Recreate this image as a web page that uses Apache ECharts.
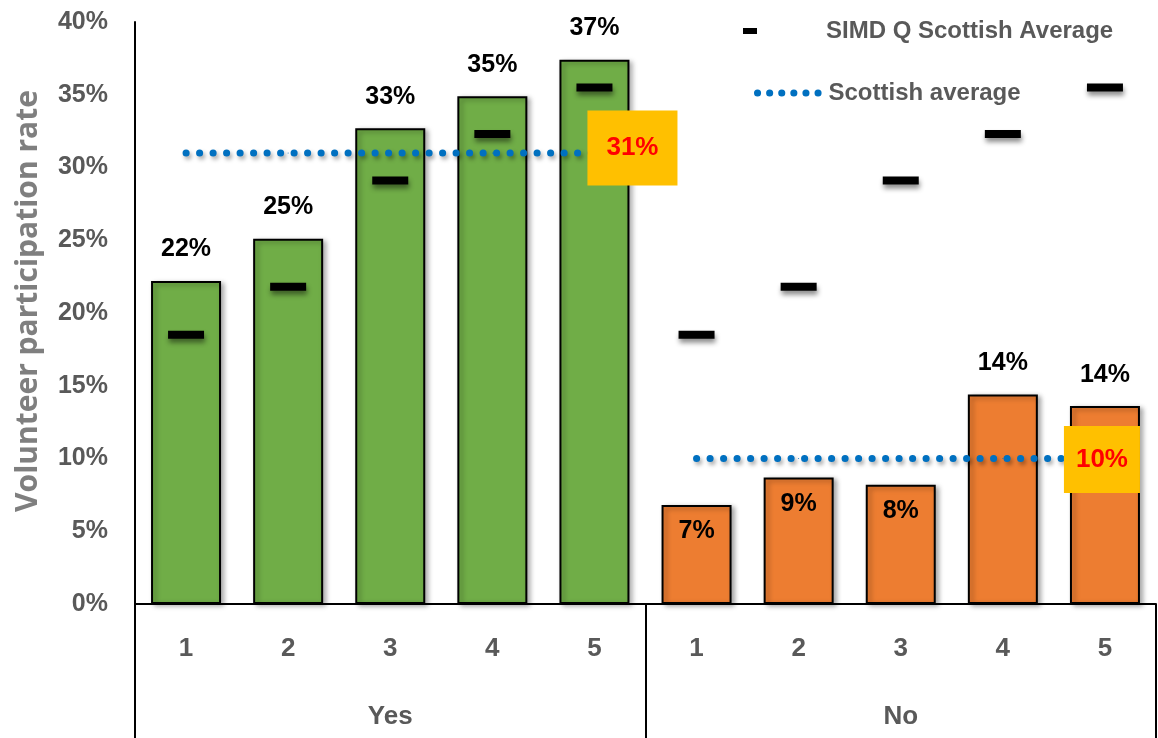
<!DOCTYPE html>
<html>
<head>
<meta charset="utf-8">
<style>
  html, body { margin: 0; padding: 0; background: #ffffff; }
  #chart { width: 1158px; height: 738px; }
</style>
<script src="https://cdn.jsdelivr.net/npm/echarts@6/dist/echarts.min.js"></script>
</head>
<body>
<div id="chart"></div>
<script>
// Volunteer participation rate by SIMD quintile, split by Yes / No groups
const quintiles = ['1', '2', '3', '4', '5'];
const groups = ['Yes', 'No'];
const yesRates = [22.2, 25.1, 32.7, 34.9, 37.4];
const noRates = [6.8, 8.7, 8.2, 14.4, 13.6];
const simdQAverage = [18.5, 21.8, 29.1, 32.3, 35.5];
const scottishAverageYes = 31;
const scottishAverageNo = 10;
const yTicks = [0, 5, 10, 15, 20, 25, 30, 35, 40];

const GREEN = '#70AD47';
const ORANGE = '#ED7D31';
const BLUE = '#0070C0';
const GREY = '#595959';
const FONT = "'Liberation Sans', Arial, sans-serif";
const LABEL_SIZE = 25;

const categories = quintiles.concat(quintiles);
const allRates = yesRates.concat(noRates);

// No-group bars 1-3 carry their label inside the top of the bar
const barData = allRates.map((v, i) => {
  const isYes = i < quintiles.length;
  const item = {
    value: v,
    itemStyle: { color: isYes ? GREEN : ORANGE }
  };
  if (!isYes && v < 10) {
    item.label = { position: 'insideTop', distance: 14 };
  }
  return item;
});

const simdData = simdQAverage.concat(simdQAverage);

function avgSeriesData(value, from, to) {
  return categories.map((c, i) => (i >= from && i <= to ? value : null));
}

const yesAvg = avgSeriesData(scottishAverageYes, 0, 4);
const noAvg = avgSeriesData(scottishAverageNo, 5, 9);

const avgLabelBase = {
  show: true,
  position: 'inside',
  formatter: p => p.value + '%',
  color: '#FF0000',
  fontFamily: FONT,
  fontWeight: 'bold',
  fontSize: 26,
  backgroundColor: '#FFC000'
};
yesAvg[4] = {
  value: scottishAverageYes,
  label: Object.assign({}, avgLabelBase, { offset: [38, -5], padding: [25, 19, 24, 19] })
};
noAvg[9] = {
  value: scottishAverageNo,
  label: Object.assign({}, avgLabelBase, { offset: [-3, 1], padding: [21, 12, 20, 12] })
};

const dotted = {
  color: BLUE,
  width: 7,
  type: [0.1, 13.4],
  cap: 'round',
  shadowColor: 'rgba(0,0,0,0.35)',
  shadowBlur: 4,
  shadowOffsetX: 2,
  shadowOffsetY: 3
};

const chart = echarts.init(document.getElementById('chart'), null, { renderer: 'canvas' });

chart.setOption({
  animation: false,
  backgroundColor: '#ffffff',
  grid: { left: 135, right: 2, top: 22, bottom: 134, containLabel: false },
  legend: [
    {
      data: ['SIMD Q Scottish Average'],
      left: 738,
      top: 14,
      icon: 'rect',
      itemWidth: 14,
      itemHeight: 6,
      textStyle: {
        color: GREY, fontFamily: FONT, fontWeight: 'bold', fontSize: 24,
        padding: [0, 0, 0, 64]
      }
    },
    {
      data: ['Scottish average'],
      left: 749,
      top: 76,
      itemWidth: 66,
      itemHeight: 8,
      itemStyle: { opacity: 0 },
      lineStyle: { color: BLUE, width: 7, type: [0.1, 12], cap: 'round' },
      textStyle: { color: GREY, fontFamily: FONT, fontWeight: 'bold', fontSize: 24 }
    }
  ],
  xAxis: [
    {
      type: 'category',
      data: categories,
      position: 'bottom',
      axisLine: { show: true, lineStyle: { color: '#000', width: 2 } },
      axisTick: { show: false },
      axisLabel: {
        color: GREY, fontFamily: FONT, fontWeight: 'bold', fontSize: 26, margin: 32
      }
    },
    {
      type: 'category',
      data: groups,
      position: 'bottom',
      axisLine: { show: false },
      axisTick: { show: true, length: 134, lineStyle: { color: '#000', width: 2 } },
      axisLabel: {
        color: GREY, fontFamily: FONT, fontWeight: 'bold', fontSize: 26, margin: 100
      }
    }
  ],
  yAxis: {
    type: 'value',
    min: yTicks[0],
    max: yTicks[yTicks.length - 1],
    interval: 5,
    name: 'Volunteer participation rate',
    nameLocation: 'middle',
    nameGap: 92,
    nameTextStyle: {
      color: '#7F7F7F', fontFamily: "'Open Sans', sans-serif", fontWeight: 'bold', fontSize: 30,
      padding: [0, 0, 0, 24]
    },
    axisLine: { show: true, lineStyle: { color: '#000', width: 2 } },
    axisTick: { show: false },
    splitLine: { show: false },
    axisLabel: {
      formatter: '{value}%',
      color: GREY, fontFamily: FONT, fontWeight: 'bold', fontSize: 25, margin: 27
    }
  },
  series: [
    {
      name: 'Volunteer participation rate',
      type: 'bar',
      xAxisIndex: 0,
      data: barData,
      barWidth: 70,
      itemStyle: {
        borderColor: '#000',
        borderWidth: 2,
        shadowColor: 'rgba(0,0,0,0.35)',
        shadowBlur: 5,
        shadowOffsetX: 3,
        shadowOffsetY: 2
      },
      label: {
        show: true,
        position: 'top',
        distance: 19,
        formatter: p => Math.round(p.value) + '%',
        color: '#000',
        fontFamily: FONT,
        fontWeight: 'bold',
        fontSize: LABEL_SIZE
      },
      z: 2
    },
    {
      name: 'SIMD Q Scottish Average',
      type: 'scatter',
      xAxisIndex: 0,
      data: simdData,
      symbol: 'rect',
      symbolSize: [36, 8],
      itemStyle: {
        color: '#000',
        opacity: 1,
        shadowColor: 'rgba(0,0,0,0.45)',
        shadowBlur: 5,
        shadowOffsetX: 1,
        shadowOffsetY: 4
      },
      z: 4
    },
    {
      name: 'Scottish average',
      type: 'line',
      xAxisIndex: 0,
      data: yesAvg,
      symbol: 'circle',
      symbolSize: 1,
      itemStyle: { color: BLUE },
      lineStyle: dotted,
      label: { show: false },
      z: 5
    },
    {
      name: 'Scottish average',
      type: 'line',
      xAxisIndex: 0,
      data: noAvg,
      symbol: 'circle',
      symbolSize: 1,
      itemStyle: { color: BLUE },
      lineStyle: dotted,
      label: { show: false },
      z: 5
    }
  ]
});
</script>
</body>
</html>
